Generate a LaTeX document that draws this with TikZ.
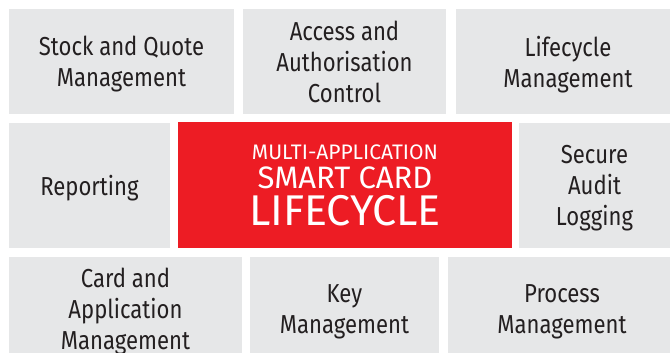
\documentclass[tikz,border=0pt]{standalone}
\usepackage{fontspec}
\setmainfont{Fira Sans}[FakeStretch=0.85]
\newfontfamily\corefont{Fira Sans}
\usepackage{xcolor}
\definecolor{cellgray}{HTML}{E6E7E8}
\definecolor{cardred}{HTML}{ED1C24}
\definecolor{inkgray}{HTML}{231F20}
\tikzset{font={\fontsize{26pt}{31pt}\selectfont}}

\begin{document}
\begin{tikzpicture}[x=1pt,y=-1pt,
cell/.style={fill=cellgray,text=inkgray,align=center,inner sep=0pt,text depth=0pt},
core/.style={fill=cardred,text=white,align=center,inner sep=0pt}
]
\useasboundingbox (0,0) rectangle (670,353);

%top row
\node[cell,minimum width=225pt,minimum height=105pt] (stock) at (121.5,61.5) {Stock and Quote\\Management};
\node[cell,minimum width=203pt,minimum height=105pt] (access) at (344.5,61.5) {Access and\\Authorisation\\Control};
\node[cell,minimum width=224pt,minimum height=105pt] (life) at (568,61.5) {Lifecycle\\Management};

%middle row
\node[cell,minimum width=161pt,minimum height=125pt] (report) at (89.5,185.5) {Reporting};
\node[core,minimum width=334pt,minimum height=126pt,
      font={\corefont\fontsize{21pt}{29pt}\selectfont\lineskiplimit=-50pt}] (core) at (345,185)
  {MULTI-APPLICATION\\\fontsize{31pt}{29pt}\selectfont SMART CARD\\[8pt]\fontsize{43pt}{29pt}\selectfont LIFECYCLE};
\node[cell,minimum width=151pt,minimum height=125pt] (audit) at (594.5,185.5) {Secure\\Audit\\Logging};

%bottom row
\node[cell,minimum width=233pt,minimum height=104pt] (card) at (125.5,309) {Card and\\Application\\Management};
\node[cell,minimum width=189pt,minimum height=104pt] (key) at (344.5,309) {Key\\Management};
\node[cell,minimum width=228pt,minimum height=104pt] (process) at (562,309) {Process\\Management};

\end{tikzpicture}
\end{document}
